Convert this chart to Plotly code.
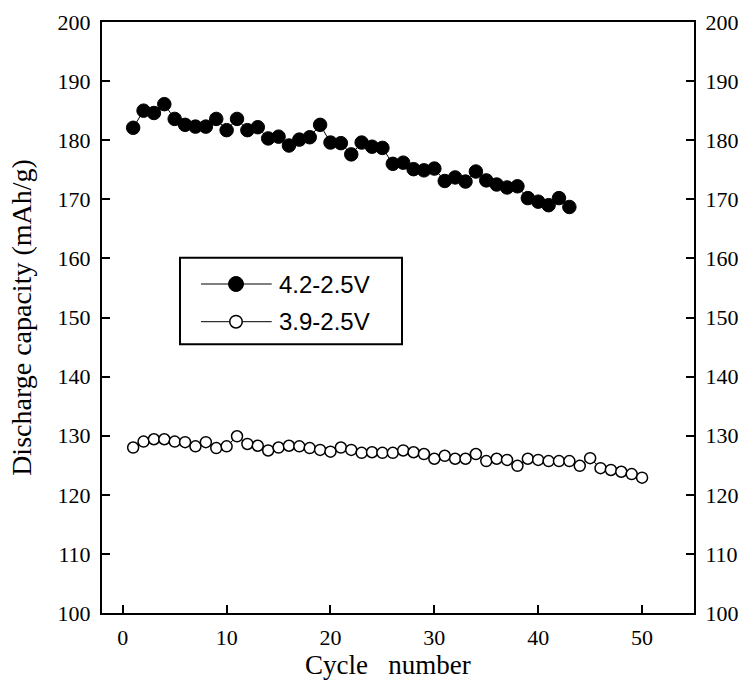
import plotly.graph_objects as go

cycles_a = list(range(1, 44))
cap_a = [182.1, 185.0, 184.6, 186.1, 183.6, 182.6, 182.3, 182.3, 183.6, 181.7,
         183.6, 181.7, 182.2, 180.3, 180.6, 179.1, 180.1, 180.5, 182.6, 179.6,
         179.5, 177.6, 179.6, 178.9, 178.7, 176.0, 176.2, 175.1, 174.9, 175.2,
         173.1, 173.7, 173.0, 174.7, 173.2, 172.5, 172.0, 172.2, 170.2, 169.6,
         169.0, 170.2, 168.7]

cycles_b = list(range(1, 51))
cap_b = [128.0, 129.0, 129.4, 129.4, 129.0, 128.9, 128.2, 128.9, 127.9, 128.2,
         129.9, 128.6, 128.3, 127.5, 128.0, 128.3, 128.2, 127.9, 127.6, 127.3,
         128.0, 127.6, 127.1, 127.2, 127.1, 127.1, 127.5, 127.2, 126.9, 126.1,
         126.6, 126.1, 126.1, 126.9, 125.7, 126.1, 125.9, 124.9, 126.1, 125.9,
         125.7, 125.7, 125.7, 124.9, 126.2, 124.5, 124.2, 123.9, 123.5, 122.9]

names = ["4.2-2.5V", "3.9-2.5V"]
x_ticks = [0, 10, 20, 30, 40, 50]
y_ticks = list(range(100, 201, 10))

serif = "Liberation Serif, Times New Roman, serif"
sans = "Liberation Sans, Arial, sans-serif"

W, H = 739, 682
ML, MR, MT, MB = 102, 45, 22, 69
PW, PH = W - ML - MR, H - MT - MB


def px(xp):
    return (xp - ML) / PW


def py(yp):
    return (H - MB - yp) / PH


fig = go.Figure()
fig.add_trace(go.Scatter(
    x=cycles_a, y=cap_a, name=names[0], mode="lines+markers", showlegend=False,
    line=dict(color="black", width=1),
    marker=dict(symbol="circle", size=13.5, color="black",
                line=dict(color="black", width=1)),
))
fig.add_trace(go.Scatter(
    x=cycles_b, y=cap_b, name=names[1], mode="lines+markers", showlegend=False,
    line=dict(color="black", width=1),
    marker=dict(symbol="circle", size=11, color="white",
                line=dict(color="black", width=1.5)),
))
# invisible trace for right axis
fig.add_trace(go.Scatter(x=[None], y=[None], yaxis="y2", showlegend=False))

# legend drawn as a framed key
shapes = [dict(type="rect", xref="paper", yref="paper",
               x0=px(180), x1=px(402), y0=py(344.3), y1=py(257.7),
               line=dict(color="black", width=2), fillcolor="white", layer="above")]
annotations = []
rows = [(284, "black", 15, 1), (321.7, "white", 12.5, 1.5)]
for (ry, fill, dia, lw), nm in zip(rows, names):
    shapes.append(dict(type="line", xref="paper", yref="paper",
                       x0=px(201), x1=px(271.7), y0=py(ry), y1=py(ry),
                       line=dict(color="black", width=1), layer="above"))
    shapes.append(dict(type="circle", xref="paper", yref="paper",
                       xsizemode="pixel", ysizemode="pixel",
                       xanchor=px(236), yanchor=py(ry),
                       x0=-dia / 2, x1=dia / 2, y0=-dia / 2, y1=dia / 2,
                       fillcolor=fill, line=dict(color="black", width=lw),
                       layer="above"))
    annotations.append(dict(text=nm, xref="paper", yref="paper",
                            x=px(276.5), y=py(ry), xanchor="left", yanchor="middle",
                            showarrow=False,
                            font=dict(family=sans, size=24, color="black")))

annotations.append(dict(text="Cycle\u00a0\u00a0\u00a0number", xref="paper", yref="paper",
                        x=px(388), y=py(665), xanchor="center", yanchor="middle",
                        showarrow=False,
                        font=dict(family=serif, size=27, color="black")))

fig.update_layout(
    width=W, height=H,
    margin=dict(l=ML, r=MR, t=MT, b=MB, autoexpand=False),
    paper_bgcolor="white", plot_bgcolor="white",
    showlegend=False,
    shapes=shapes,
    annotations=annotations,
    xaxis=dict(
        range=[-2, 55], tickvals=x_ticks, ticks="inside", ticklen=8,
        tickwidth=1.5, tickcolor="black", automargin=False,
        showline=True, linecolor="black", linewidth=2, mirror=True,
        showgrid=False, zeroline=False, ticklabelstandoff=4,
        tickfont=dict(family=serif, size=22, color="black"),
    ),
    yaxis=dict(
        range=[100, 200], tickvals=y_ticks, ticks="inside", ticklen=8,
        tickwidth=1.5, tickcolor="black", automargin=False,
        showline=True, linecolor="black", linewidth=2,
        showgrid=False, zeroline=False, ticklabelstandoff=5,
        tickfont=dict(family=serif, size=22, color="black"),
        title=dict(text="Discharge capacity (mAh/g)",
                   font=dict(family=serif, size=28, color="black"), standoff=18),
    ),
    yaxis2=dict(
        range=[100, 200], tickvals=y_ticks, ticks="inside", ticklen=8,
        tickwidth=1.5, tickcolor="black", overlaying="y", side="right",
        showline=True, linecolor="black", linewidth=2, automargin=False,
        showgrid=False, zeroline=False, ticklabelstandoff=5,
        tickfont=dict(family=serif, size=22, color="black"),
    ),
)

fig.write_html("out.html")
